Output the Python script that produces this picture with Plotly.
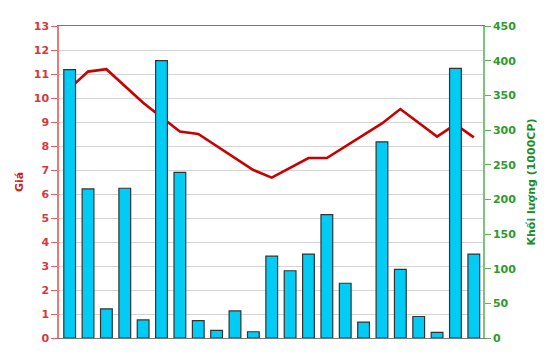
import plotly.graph_objects as go

sessions = [f"P{i+1}" for i in range(23)]
price = [10.4, 11.1, 11.2, 10.5, 9.8, 9.2, 8.6, 8.5, 8.0, 7.5, 7.0, 6.68, 7.1,
         7.5, 7.5, 7.98, 8.46, 8.94, 9.54, 8.96, 8.39, 8.9, 8.36]
volume = [387, 215, 42, 216, 26, 400, 239, 25, 11, 39, 9, 118, 97, 121, 178,
          79, 23, 283, 99, 31, 8, 389, 121]

left_ticks = list(range(0, 14))
right_ticks = list(range(0, 451, 50))

fig = go.Figure()
fig.add_trace(go.Bar(
    x=sessions, y=volume, yaxis="y2",
    marker=dict(color="#00CCF5", line=dict(color="#333333", width=1.2)),
    showlegend=False,
))
fig.add_trace(go.Scatter(
    x=sessions, y=price, yaxis="y", mode="lines",
    line=dict(color="#C80000", width=2.6),
    showlegend=False,
))

fig.update_layout(
    width=550, height=364,
    margin=dict(l=59, r=67, t=26, b=26),
    paper_bgcolor="white", plot_bgcolor="white",
    bargap=0.36,
    xaxis=dict(showticklabels=False, showgrid=False, zeroline=False,
               showline=True, mirror=True, linecolor="#777777", linewidth=1,
               range=[-0.58, 22.5]),
    yaxis=dict(range=[0, 13], tickvals=left_ticks, showgrid=True,
               gridcolor="#D4D4D4", gridwidth=1, zeroline=False,
               showline=True, linecolor="#E77A7A", linewidth=1.5,
               ticks="outside", ticklen=6, tickcolor="#E06060",
               tickfont=dict(color="#D43A3A", family="DejaVu Sans", size=11, weight="bold"),
               title=dict(text="Giá", font=dict(color="#C81E1E", family="DejaVu Sans", size=11, weight="bold"),
                          standoff=8)),
    yaxis2=dict(range=[0, 450], tickvals=right_ticks, overlaying="y", side="right",
                showgrid=False, zeroline=False,
                showline=True, linecolor="#7CC47C", linewidth=1.5,
                ticks="outside", ticklen=6, tickcolor="#5DB35D",
                tickfont=dict(color="#2E9A2E", family="DejaVu Sans", size=11, weight="bold"),
                title=dict(text="Khối lượng (1000CP)",
                           font=dict(color="#1E8C1E", family="DejaVu Sans", size=11, weight="bold"),
                           standoff=12)),
)

fig.write_html("out.html")
